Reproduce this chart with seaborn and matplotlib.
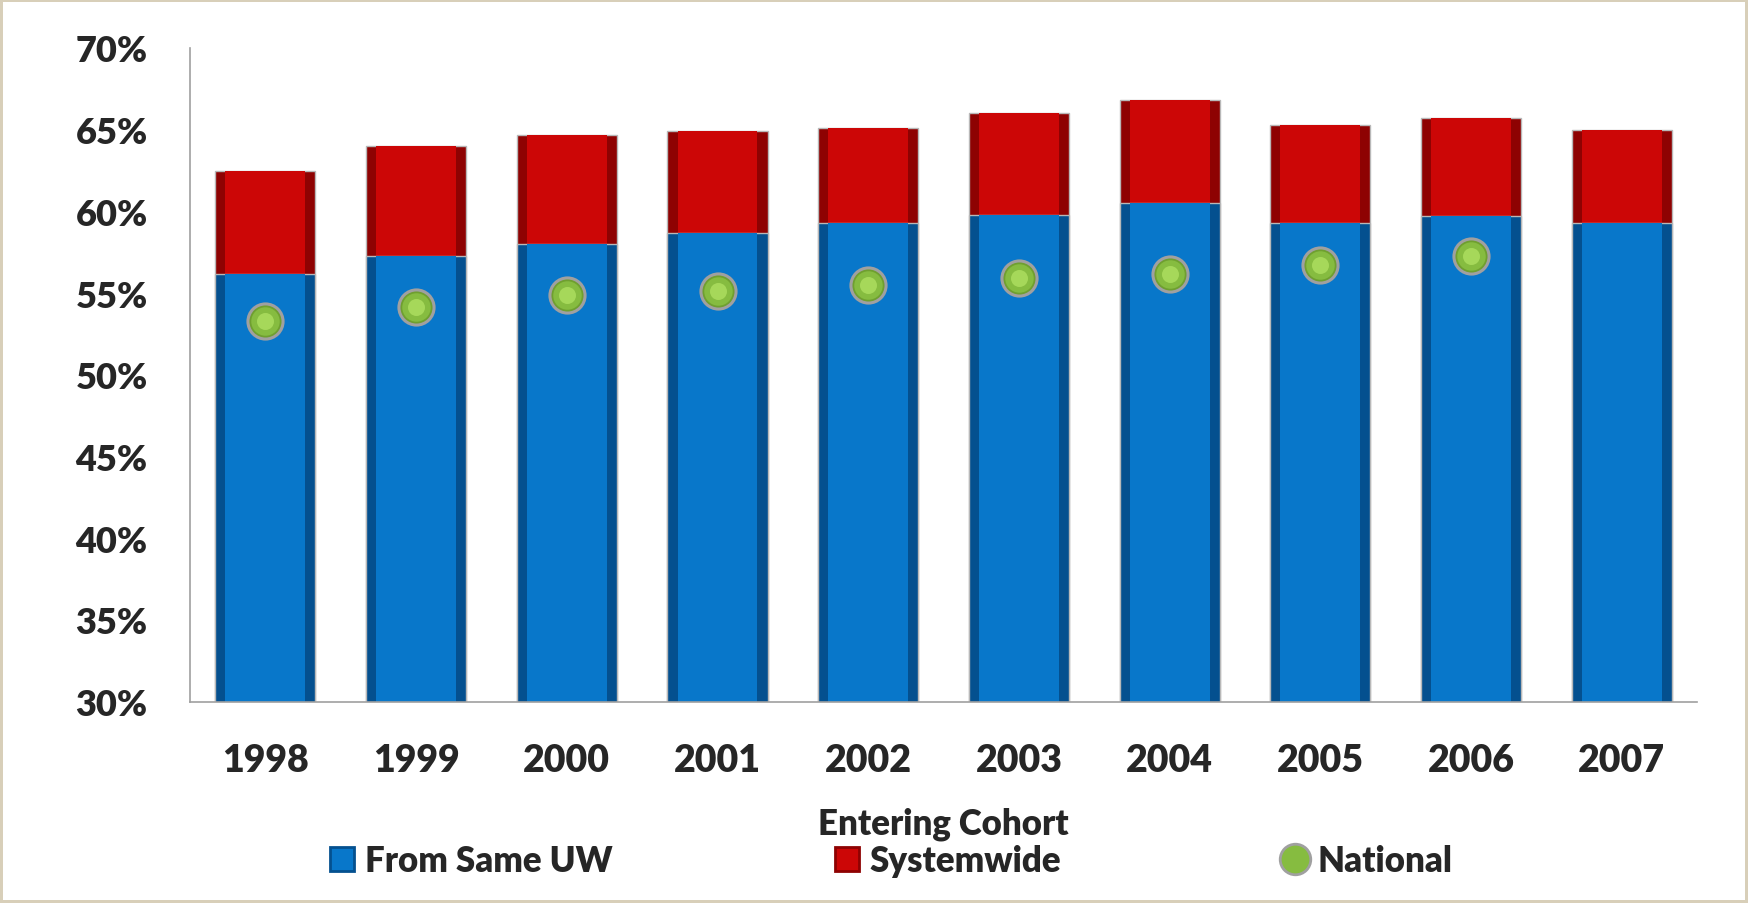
import matplotlib.pyplot as plt
import seaborn as sns
import numpy as np
from matplotlib.patches import Patch
from matplotlib.lines import Line2D

years = ['1998', '1999', '2000', '2001', '2002', '2003', '2004', '2005', '2006', '2007']
same_uw = [56.2, 57.3, 58.0, 58.7, 59.3, 59.8, 60.5, 59.3, 59.7, 59.3]
systemwide = [6.3, 6.7, 6.7, 6.2, 5.8, 6.2, 6.3, 6.0, 6.0, 5.7]
national = [53.3, 54.15, 54.9, 55.1, 55.5, 55.9, 56.2, 56.7, 57.3, np.nan]
y_ticks = [30, 35, 40, 45, 50, 55, 60, 65, 70]

total = [a + b for a, b in zip(same_uw, systemwide)]

BLUE = '#0877CA'
BLUE_DARK = '#04508F'
RED = '#CC0606'
RED_DARK = '#8E0202'

sns.set_style('white')
plt.rcParams['font.family'] = ['Lato', 'DejaVu Sans']
plt.rcParams['font.weight'] = 'heavy'

fig = plt.figure(figsize=(17.48, 9.04), dpi=100, facecolor='white',
                 edgecolor='#D8CFB9', linewidth=4)
ax = fig.add_axes([0.1087, 0.2227, 0.8622, 0.7231])

# stacked bars: full total in red, same-UW portion in blue on top of it
sns.barplot(x=years, y=total, color=RED_DARK, width=0.665, saturation=1,
            edgecolor='#B8B8B8', linewidth=1, ax=ax)
sns.barplot(x=years, y=total, color=RED, width=0.53, saturation=1,
            linewidth=0, ax=ax)
sns.barplot(x=years, y=same_uw, color=BLUE_DARK, width=0.665, saturation=1,
            edgecolor='#B8B8B8', linewidth=1, ax=ax)
sns.barplot(x=years, y=same_uw, color=BLUE, width=0.53, saturation=1,
            linewidth=0, ax=ax)

# national markers (sphere look: darker rim + lighter centre)
sns.scatterplot(x=years, y=national, color='#6F9F30', s=640,
                edgecolor='#A0A0A0', linewidth=2.2, zorder=5, ax=ax)
sns.scatterplot(x=years, y=national, color='#86BC40', s=420,
                linewidth=0, zorder=6, ax=ax)
sns.scatterplot(x=years, y=national, color='#A6D85A', s=150,
                linewidth=0, zorder=7, ax=ax)

ax.set_xlim(-0.5, len(years) - 0.5)
ax.set_ylim(30, 70)
ax.set_yticks(y_ticks)
ax.set_yticklabels([f'{v}%' for v in y_ticks])
ax.set_xticks(range(len(years)))
ax.set_xticklabels(years)
ax.set_xticks(np.arange(-0.5, len(years)), minor=True)

ax.tick_params(axis='y', which='major', length=10.5, width=1, color='#A0A0A0',
               pad=20, labelsize=26)
ax.tick_params(axis='x', which='major', length=0, pad=30, labelsize=27)
ax.tick_params(axis='x', which='minor', length=11, width=1, color='#A0A0A0')

sns.despine(ax=ax)
for side in ['left', 'bottom']:
    ax.spines[side].set_color('#A0A0A0')
    ax.spines[side].set_linewidth(1.2)

ax.set_xlabel('Entering Cohort', fontsize=25, fontweight='heavy', labelpad=21)
ax.set_ylabel('')

handles = [
    Patch(facecolor=BLUE, edgecolor=BLUE_DARK, linewidth=2),
    Patch(facecolor=RED, edgecolor=RED_DARK, linewidth=2),
    Line2D([], [], marker='o', linestyle='none', markersize=22,
           markerfacecolor='#86BC40', markeredgecolor='#A0A0A0', markeredgewidth=2),
]
fig.legend(handles, ['From Same UW', 'Systemwide', 'National'],
           loc='center', bbox_to_anchor=(0.510, 0.0465), ncol=3,
           frameon=False, fontsize=25, handlelength=0.7, handleheight=0.7,
           handletextpad=0.3, columnspacing=6.4)

fig.savefig('out.png', dpi=100, facecolor=fig.get_facecolor(),
            edgecolor=fig.get_edgecolor())
